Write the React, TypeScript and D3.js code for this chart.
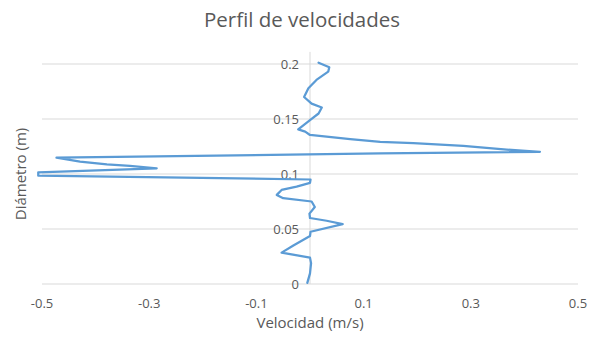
import React, { useEffect, useRef } from "react";
import * as d3 from "d3";

const chartTitle = "Perfil de velocidades";
const xAxisTitle = "Velocidad (m/s)";
const yAxisTitle = "Diámetro (m)";

const velocity = [
  -0.005, 0.0, 0.002, 0.0, -0.053, -0.031, 0.0, 0.001, 0.061, 0.031, 0.0, -0.001,
  0.009, 0.003, -0.05, -0.062, -0.053, -0.025, 0.0, 0.001, -0.507, -0.507, -0.286,
  -0.336, -0.379, -0.429, -0.473, 0.131, 0.429, 0.367, 0.286, 0.193, 0.131, 0.075,
  0.0, -0.009, -0.022, 0.0, 0.016, 0.022, 0.003, -0.011, -0.003, 0.012, 0.034, 0.036,
  0.016,
];
const diameter = [
  0.001, 0.0097, 0.019, 0.024, 0.0285, 0.035, 0.0436, 0.0475, 0.0545, 0.0575, 0.06,
  0.064, 0.07, 0.075, 0.078, 0.081, 0.0855, 0.0885, 0.092, 0.095, 0.0985, 0.1015,
  0.1052, 0.1073, 0.1088, 0.1112, 0.1148, 0.1188, 0.1202, 0.1222, 0.1255, 0.128,
  0.1292, 0.1318, 0.1355, 0.1385, 0.1406, 0.149, 0.155, 0.1605, 0.164, 0.17, 0.178,
  0.1855, 0.193, 0.197, 0.2012,
];
const xTicks = [-0.5, -0.3, -0.1, 0.1, 0.3, 0.5];
const yTicks = [0, 0.05, 0.1, 0.15, 0.2];

const W = 605;
const H = 346;
const FONT = "'Open Sans', 'Noto Sans', sans-serif";
const TEXT = "#595959";
const fmt = (d: number) => String(d);

export default function App() {
  const ref = useRef<SVGSVGElement>(null);

  useEffect(() => {
    const svg = d3.select(ref.current);
    svg.selectAll("*").remove();

    const x = d3.scaleLinear().domain([-0.5, 0.5]).range([42, 578]);
    const y = d3.scaleLinear().domain([0, 0.2]).range([284, 64]);

    svg.append("rect").attr("width", W).attr("height", H).attr("fill", "#fff");

    svg
      .append("g")
      .selectAll("line")
      .data(yTicks)
      .join("line")
      .attr("x1", x(-0.5))
      .attr("x2", x(0.5))
      .attr("y1", (d) => y(d))
      .attr("y2", (d) => y(d))
      .attr("stroke", "#d9d9d9")
      .attr("stroke-width", 1);

    svg
      .append("line")
      .attr("x1", x(0))
      .attr("x2", x(0))
      .attr("y1", y(0.211))
      .attr("y2", y(0))
      .attr("stroke", "#d9d9d9")
      .attr("stroke-width", 1);

    svg
      .append("g")
      .selectAll("text")
      .data(yTicks)
      .join("text")
      .attr("x", x(0) - 11)
      .attr("y", (d) => y(d))
      .attr("dy", "0.35em")
      .attr("text-anchor", "end")
      .attr("font-family", FONT)
      .attr("font-size", 13)
      .attr("fill", TEXT)
      .text((d) => fmt(d));

    svg
      .append("g")
      .selectAll("text")
      .data(xTicks)
      .join("text")
      .attr("x", (d) => x(d))
      .attr("y", 308)
      .attr("text-anchor", "middle")
      .attr("font-family", FONT)
      .attr("font-size", 13)
      .attr("fill", TEXT)
      .text((d) => fmt(d));

    const pts: [number, number][] = velocity.map((v, i) => [v, diameter[i]]);
    const line = d3
      .line<[number, number]>()
      .x((d) => x(d[0]))
      .y((d) => y(d[1]));
    svg
      .append("path")
      .attr("d", line(pts))
      .attr("fill", "none")
      .attr("stroke", "#5b9bd5")
      .attr("stroke-width", 2.25)
      .attr("stroke-linejoin", "round")
      .attr("stroke-linecap", "round");

    svg
      .append("text")
      .attr("x", 302)
      .attr("y", 27)
      .attr("text-anchor", "middle")
      .attr("font-family", FONT)
      .attr("font-size", 20.5)
      .attr("fill", TEXT)
      .text(chartTitle);

    svg
      .append("text")
      .attr("x", x(0))
      .attr("y", 328)
      .attr("text-anchor", "middle")
      .attr("font-family", FONT)
      .attr("font-size", 15)
      .attr("fill", TEXT)
      .text(xAxisTitle);

    svg
      .append("text")
      .attr("transform", `translate(21,${(y(0) + y(0.2)) / 2}) rotate(-90)`)
      .attr("dy", "0.35em")
      .attr("text-anchor", "middle")
      .attr("font-family", FONT)
      .attr("font-size", 15)
      .attr("fill", TEXT)
      .text(yAxisTitle);
  }, []);

  return (
    <div style={{ position: "fixed", left: 0, top: 0 }}>
      <svg ref={ref} width={W} height={H} style={{ display: "block" }} />
    </div>
  );
}
